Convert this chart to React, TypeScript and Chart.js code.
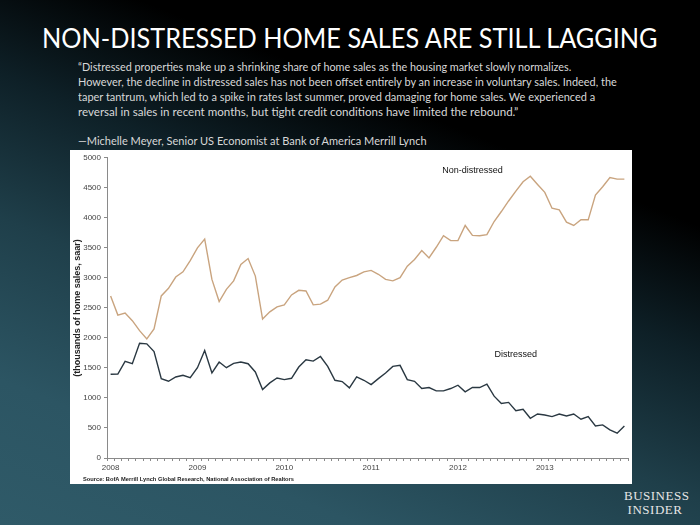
import React, { useEffect, useLayoutEffect, useRef } from 'react';
import { Chart, registerables } from 'chart.js';

Chart.register(...registerables);

// ---- data ----
const years = ['2008', '2009', '2010', '2011', '2012', '2013'];

const nonDistressed = [
  2700, 2380, 2413, 2287, 2121, 1983, 2149, 2700, 2826, 3014,
  3102, 3289, 3499, 3647, 2975, 2606, 2810, 2950, 3223, 3322,
  3030, 2314, 2435, 2518, 2551, 2716, 2793, 2782, 2551, 2562,
  2628, 2848, 2964, 3003, 3040, 3100, 3124, 3060, 2975, 2950,
  3003, 3196, 3306, 3455, 3333, 3510, 3702, 3620, 3620, 3873,
  3708, 3702, 3719, 3939, 4105, 4281, 4446, 4600, 4694, 4556,
  4424, 4160, 4132, 3928, 3873, 3967, 3967, 4380, 4518, 4672,
  4645, 4645,
];

const distressed = [
  1394, 1399, 1609, 1570, 1912, 1901, 1774, 1322, 1278, 1350,
  1377, 1339, 1504, 1791, 1416, 1598, 1504, 1575, 1598, 1570,
  1433, 1140, 1251, 1333, 1306, 1328, 1515, 1636, 1614, 1691,
  1526, 1295, 1273, 1168, 1350, 1295, 1223, 1322, 1416, 1526,
  1543, 1306, 1278, 1157, 1174, 1118, 1118, 1157, 1212, 1102,
  1174, 1174, 1229, 1030, 909, 926, 788, 810, 661, 733,
  716, 689, 733, 700, 733, 645, 689, 534, 551, 468,
  413, 534,
];

const seriesNames = ['Non-distressed', 'Distressed'];
const seriesLabelAnchors = [
  { text: 'Non-distressed', index: 50, value: 4780 },
  { text: 'Distressed', index: 56, value: 1725 },
];

const titleText = 'NON-DISTRESSED HOME SALES ARE STILL LAGGING';
const quoteLines = [
  '\u201CDistressed properties make up a shrinking share of home sales as the housing market slowly normalizes.',
  'However, the decline in distressed sales has not been offset entirely by an increase in voluntary sales. Indeed, the',
  'taper tantrum, which led to a spike in rates last summer, proved damaging for home sales. We experienced a',
  'reversal in sales in recent months, but tight credit conditions have limited the rebound.\u201D',
];
const attribution = '\u2014Michelle Meyer, Senior US Economist at Bank of America Merrill Lynch';
const yAxisTitle = '(thousands of home sales, saar)';
const sourceText = 'Source: BofA Merrill Lynch Global Research, National Association of Realtors';

// month labels: year shown at each January
const monthLabels: string[] = [];
years.forEach((yr) => {
  for (let m = 0; m < 12; m++) monthLabels.push(m === 0 ? yr : '');
});

const SANS = 'Arial, "Liberation Sans", sans-serif';

function FitText(props: {
  text: string;
  left: number;
  top: number;
  width: number;
  fontSize: number;
  lineHeight: number;
  family: string;
  color: string;
  weight?: number;
}) {
  const ref = useRef<HTMLDivElement | null>(null);
  useLayoutEffect(() => {
    const fit = () => {
      const el = ref.current;
      if (!el) return;
      el.style.transform = 'none';
      const w = el.scrollWidth;
      if (w > 0) el.style.transform = `scaleX(${props.width / w})`;
    };
    fit();
    if ((document as any).fonts && (document as any).fonts.ready) {
      (document as any).fonts.ready.then(fit);
    }
  }, [props.text, props.width]);
  return (
    <div
      ref={ref}
      style={{
        position: 'absolute',
        left: props.left,
        top: props.top,
        whiteSpace: 'nowrap',
        fontFamily: props.family,
        fontSize: props.fontSize,
        lineHeight: props.lineHeight + 'px',
        fontWeight: props.weight ?? 400,
        color: props.color,
        transformOrigin: 'left center',
        display: 'inline-block',
      }}
    >
      {props.text}
    </div>
  );
}

function LineChart() {
  const canvasRef = useRef<HTMLCanvasElement | null>(null);

  useEffect(() => {
    if (!canvasRef.current) return;

    const annotations = {
      id: 'annotations',
      afterDraw(chart: any) {
        const { ctx, scales } = chart;
        const x = scales.x;
        const y = scales.y;
        ctx.save();
        ctx.fillStyle = '#111';
        ctx.font = `9px ${SANS}`;
        ctx.textAlign = 'center';
        ctx.textBaseline = 'middle';
        seriesLabelAnchors.forEach((a) => {
          ctx.fillText(a.text, x.getPixelForValue(a.index), y.getPixelForValue(a.value));
        });
        ctx.font = `bold 6px ${SANS}`;
        ctx.textAlign = 'left';
        ctx.fillStyle = '#222';
        ctx.fillText(sourceText, 13, 329, 211);
        ctx.restore();
      },
    };

    const chart = new Chart(canvasRef.current, {
      type: 'line',
      data: {
        labels: monthLabels,
        datasets: [
          {
            label: seriesNames[0],
            data: nonDistressed,
            borderColor: '#c9a47f',
            borderWidth: 1.4,
            pointRadius: 0,
            tension: 0,
            fill: false,
          },
          {
            label: seriesNames[1],
            data: distressed,
            borderColor: '#2a3842',
            borderWidth: 1.4,
            pointRadius: 0,
            tension: 0,
            fill: false,
          },
        ],
      },
      options: {
        animation: false,
        responsive: false,
        devicePixelRatio: 1,
        layout: { padding: { top: 6, right: 4, bottom: 0, left: 0 } },
        plugins: {
          legend: { display: false },
          tooltip: { enabled: false },
          title: { display: false },
        },
        scales: {
          x: {
            type: 'category',
            offset: true,
            grid: {
              display: true,
              drawOnChartArea: false,
              drawTicks: true,
              tickLength: 3,
              color: '#8a8a8a',
              offset: true,
            },
            border: { display: true, color: '#8a8a8a' },
            ticks: {
              autoSkip: false,
              maxRotation: 0,
              minRotation: 0,
              padding: 2,
              color: '#444',
              font: { family: SANS, size: 8 },
              callback: (_v: any, i: number) => monthLabels[i],
            },
            afterFit: (s: any) => {
              s.height = 26;
            },
          },
          y: {
            min: 0,
            max: 5000,
            grid: {
              display: true,
              drawOnChartArea: false,
              drawTicks: true,
              tickLength: 3,
              color: '#8a8a8a',
            },
            border: { display: true, color: '#8a8a8a' },
            ticks: {
              stepSize: 500,
              padding: 3,
              color: '#444',
              font: { family: SANS, size: 8 },
              callback: (v: any) => String(v),
            },
            title: {
              display: true,
              text: yAxisTitle,
              color: '#222',
              font: { family: SANS, size: 9, weight: 'bold' },
              padding: { top: 2, bottom: 0 },
            },
            afterFit: (s: any) => {
              s.width = 37;
            },
          },
        },
      },
      plugins: [annotations],
    });

    return () => chart.destroy();
  }, []);

  return <canvas ref={canvasRef} width={562} height={334} style={{ display: 'block' }} />;
}

export default function App() {
  const quoteFont = 'Lato, "Open Sans", sans-serif';
  const quoteWidths = [493, 539, 517, 440];
  const quoteCenters = [67, 82, 97, 112];
  return (
    <div
      style={{
        position: 'fixed',
        left: 0,
        top: 0,
        width: 700,
        height: 525,
        overflow: 'hidden',
        background:
          'linear-gradient(202deg, #000 0%, #000 28%, #0e2027 44%, #1f3f4a 62%, #2c5563 82%, #2f5a68 100%)',
      }}
    >
      <FitText
        text={titleText}
        left={42}
        top={22}
        width={616}
        fontSize={27}
        lineHeight={32}
        family={quoteFont}
        color="#ffffff"
        weight={400}
      />
      {quoteLines.map((line, i) => (
        <FitText
          key={i}
          text={line}
          left={78}
          top={quoteCenters[i] - 8}
          width={quoteWidths[i]}
          fontSize={12}
          lineHeight={16}
          family={quoteFont}
          color="#d8d8d8"
        />
      ))}
      <FitText
        text={attribution}
        left={78}
        top={141 - 8}
        width={349}
        fontSize={12}
        lineHeight={16}
        family={quoteFont}
        color="#d8d8d8"
      />
      <div
        style={{
          position: 'absolute',
          left: 70,
          top: 150,
          width: 562,
          height: 334,
          background: '#ffffff',
        }}
      >
        <LineChart />
      </div>
      <div
        style={{
          position: 'absolute',
          left: 624,
          top: 489,
          width: 62,
          textAlign: 'center',
          fontFamily: '"Liberation Serif", "DejaVu Serif", serif',
          fontSize: 13,
          lineHeight: '14px',
          letterSpacing: '0.5px',
          color: '#e6e6e6',
        }}
      >
        BUSINESS
        <br />
        INSIDER
      </div>
    </div>
  );
}
